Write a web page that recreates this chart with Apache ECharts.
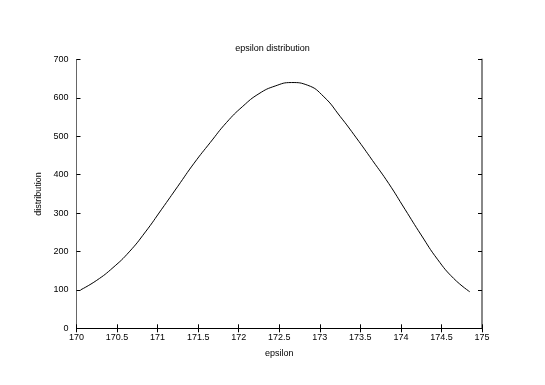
<!DOCTYPE html>
<html>
<head>
<meta charset="utf-8">
<script src="https://cdn.jsdelivr.net/npm/echarts@6/dist/echarts.min.js"></script>
<style>
  html, body { margin: 0; padding: 0; background: #fff; }
  #chart { width: 545px; height: 385px; }
</style>
</head>
<body>
<div id="chart"></div>
<script>
  // values
  const epsilon = [170.05, 170.25, 170.45, 170.65, 170.85, 171.05, 171.25, 171.45, 171.65,
    171.85, 172.05, 172.25, 172.45, 172.65, 172.85, 173.05, 173.25, 173.45,
    173.65, 173.85, 174.05, 174.25, 174.45, 174.65, 174.85];
  const distribution = [100, 125, 158, 199, 251, 310, 370, 430, 484,
    536, 578, 611, 631, 640, 633, 603, 552, 496,
    437, 377, 310, 243, 180, 130, 95];

  let chart = echarts.init(document.getElementById('chart'));
  let font = 'Liberation Sans';
  let label = { color: '#000', fontSize: 9, fontFamily: font };

  let option = {
    backgroundColor: '#fff',
    animation: false,
    title: {
      text: 'epsilon distribution',
      left: 'center',
      top: 39,
      textStyle: { color: '#000', fontSize: 9, fontWeight: 'normal', fontFamily: font }
    },
    grid: { left: 76.5, right: 63, top: 59.5, bottom: 56.7 },
    xAxis: [{
      type: 'value',
      min: 170, max: 175, interval: 0.5,
      name: 'epsilon',
      nameLocation: 'middle',
      nameGap: 21,
      nameTextStyle: label,
      axisLine: { lineStyle: { color: '#000', width: 1 } },
      axisTick: { inside: true, length: 4, lineStyle: { color: '#000' } },
      axisLabel: Object.assign({ margin: 5 }, label),
      splitLine: { show: false }
    }, {
      type: 'value',
      position: 'top',
      min: 170, max: 175, interval: 0.5,
      axisLine: { lineStyle: { color: '#000', width: 1 } },
      axisTick: { inside: true, length: 4, lineStyle: { color: '#000' } },
      axisLabel: { show: false },
      splitLine: { show: false }
    }],
    yAxis: [{
      type: 'value',
      min: 0, max: 700, interval: 100,
      name: 'distribution',
      nameLocation: 'middle',
      nameGap: 33,
      nameTextStyle: label,
      axisLine: { show: true, lineStyle: { color: '#666', width: 1 } },
      axisTick: { show: true, inside: true, length: 4, lineStyle: { color: '#000' } },
      axisLabel: Object.assign({ margin: 8 }, label),
      splitLine: { show: false }
    }, {
      type: 'value',
      position: 'right',
      min: 0, max: 700, interval: 100,
      axisLine: { show: true, lineStyle: { color: '#888', width: 2 } },
      axisTick: { show: true, inside: true, length: 4, lineStyle: { color: '#000' } },
      axisLabel: { show: false },
      splitLine: { show: false }
    }],
    series: [{
      type: 'line',
      data: epsilon.map((e, i) => [e, distribution[i]]),
      smooth: true,
      showSymbol: false,
      lineStyle: { color: '#000', width: 1 }
    }]
  };
  chart.setOption(option);
</script>
</body>
</html>
